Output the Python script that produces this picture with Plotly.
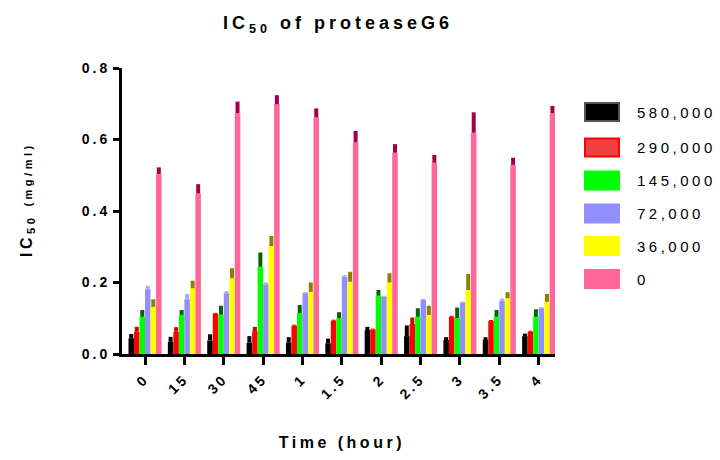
import plotly.graph_objects as go

# ---------------- data ----------------
categories = ["0", "15", "30", "45", "1", "1.5", "2", "2.5", "3", "3.5", "4"]
series_names = ["580,000", "290,000", "145,000", "72,000", "36,000", "0"]

v580 = [0.044, 0.034, 0.038, 0.032, 0.032, 0.030, 0.067, 0.050, 0.039, 0.039, 0.050]
e580 = [0.012, 0.014, 0.017, 0.018, 0.015, 0.013, 0.009, 0.030, 0.008, 0.008, 0.007]
v290 = [0.062, 0.062, 0.112, 0.064, 0.079, 0.093, 0.069, 0.084, 0.104, 0.092, 0.062]
e290 = [0.014, 0.013, 0.003, 0.012, 0.003, 0.003, 0.002, 0.018, 0.003, 0.003, 0.003]
v145 = [0.104, 0.109, 0.110, 0.244, 0.114, 0.100, 0.163, 0.104, 0.100, 0.104, 0.104]
e145 = [0.019, 0.014, 0.025, 0.040, 0.023, 0.017, 0.016, 0.024, 0.030, 0.019, 0.021]
v72 = [0.181, 0.153, 0.170, 0.195, 0.170, 0.216, 0.160, 0.151, 0.144, 0.149, 0.128]
e72 = [0.010, 0.015, 0.006, 0.005, 0.003, 0.005, 0.003, 0.003, 0.003, 0.006, 0.003]
v36 = [0.132, 0.184, 0.212, 0.302, 0.174, 0.202, 0.200, 0.109, 0.179, 0.156, 0.146]
e36 = [0.021, 0.021, 0.028, 0.028, 0.026, 0.028, 0.026, 0.026, 0.045, 0.017, 0.022]
v0 = [0.503, 0.449, 0.673, 0.699, 0.662, 0.592, 0.563, 0.535, 0.619, 0.529, 0.673]
e0 = [0.019, 0.026, 0.033, 0.025, 0.025, 0.032, 0.024, 0.022, 0.057, 0.020, 0.021]

values = [v580, v290, v145, v72, v36, v0]
errors = [e580, e290, e145, e72, e36, e0]

bar_colors = ["#000000", "#FF0000", "#00FF00", "#8F8FFF", "#FFFF00", "#FF6699"]
err_colors = ["#000000", "#D00000", "#006400", "#A8A8FF", "#8B8000", "#A0004A"]
swatch_fill = ["#000000", "#F04040", "#00FF00", "#8F8FFF", "#FFFF00", "#FF6699"]
swatch_line = ["#555555", "#FF0000", "#00FF00", "#8F8FFF", "#FFFF00", "#FF6699"]

# ---------------- layout geometry (pixels) ----------------
W, H = 720, 460
L, R, T, B = 122, 555, 68, 354
FONT = "Liberation Sans, Arial, sans-serif"


def px_x(x):
    return (x - L) / (R - L)


def px_y(y):
    return (B - y) / (B - T)


fig = go.Figure()
for name, vals, errs, bc, ec in zip(series_names, values, errors, bar_colors, err_colors):
    fig.add_trace(go.Bar(
        x=categories, y=vals, name=name,
        marker=dict(color=bc, line=dict(width=0)),
        error_y=dict(type="data", array=errs, arrayminus=[0] * len(errs),
                     symmetric=False, color=ec, thickness=4, width=0),
        showlegend=False,
    ))

n = len(categories)
shift = 0.585
fig.update_layout(
    width=W, height=H, autosize=False,
    margin=dict(l=L, r=W - R, t=T, b=H - B, pad=0),
    paper_bgcolor="white", plot_bgcolor="white",
    barmode="group", bargap=0.16, bargroupgap=0,
    font=dict(family=FONT, color="black"),
    title=dict(text="<b>IC<sub>50</sub> of proteaseG6</b>",
               x=338 / W, xanchor="center", y=1 - 23 / H, yanchor="middle",
               font=dict(size=18, family=FONT, color="black")),
    xaxis=dict(type="category", range=[-shift, n - shift],
               showline=True, linewidth=3, linecolor="black",
               ticks="outside", ticklen=8, tickwidth=3, tickcolor="black",
               tickangle=-45, showgrid=False, zeroline=False,
               tickfont=dict(size=14, family=FONT, color="black", weight="bold")),
    yaxis=dict(range=[0, 0.8], tickvals=[0, 0.2, 0.4, 0.6, 0.8],
               ticktext=["0.0", "0.2", "0.4", "0.6", "0.8"],
               showline=True, linewidth=3, linecolor="black",
               ticks="outside", ticklen=6, tickwidth=3, tickcolor="black",
               showgrid=False, zeroline=False,
               tickfont=dict(size=14, family=FONT, color="black", weight="bold")),
)

annotations = [
    dict(text="<b>Time (hour)</b>", xref="paper", yref="paper",
         x=px_x(342), y=px_y(442), xanchor="center", yanchor="middle",
         showarrow=False, font=dict(size=16, family=FONT, color="black")),
    dict(text="<b>IC</b><sub><b>50</b></sub> <span style='font-size:11px'><b>(mg/ml)</b></span>",
         xref="paper", yref="paper", x=px_x(27), y=px_y(200),
         xanchor="center", yanchor="middle", textangle=-90,
         showarrow=False, font=dict(size=16, family=FONT, color="black")),
]

shapes = []
row_centers = [112, 147.5, 180.5, 213.5, 246, 279]
for name, yc, fc, lc in zip(series_names, row_centers, swatch_fill, swatch_line):
    shapes.append(dict(type="rect", xref="paper", yref="paper",
                       x0=px_x(585), x1=px_x(619), y0=px_y(yc + 9), y1=px_y(yc - 9),
                       fillcolor=fc, line=dict(color=lc, width=2)))
    annotations.append(dict(text=name, xref="paper", yref="paper",
                            x=px_x(635), y=px_y(yc), xanchor="left", yanchor="middle",
                            align="left", showarrow=False,
                            font=dict(size=15, family=FONT, color="black")))

fig.update_layout(annotations=annotations, shapes=shapes)

post = """
function spaceText(){
  var gd = document.getElementById('{plot_id}');
  if(!gd) return;
  gd.querySelectorAll('.gtitle').forEach(function(t){t.style.letterSpacing='4px';});
  gd.querySelectorAll('.xtick text, .ytick text').forEach(function(t){t.style.letterSpacing='3px';});
  gd.querySelectorAll('.annotation-text').forEach(function(t){t.style.letterSpacing='3.5px';});
}
spaceText();
setTimeout(spaceText, 50);
setTimeout(spaceText, 300);
"""

fig.write_html("out.html", post_script=post)
